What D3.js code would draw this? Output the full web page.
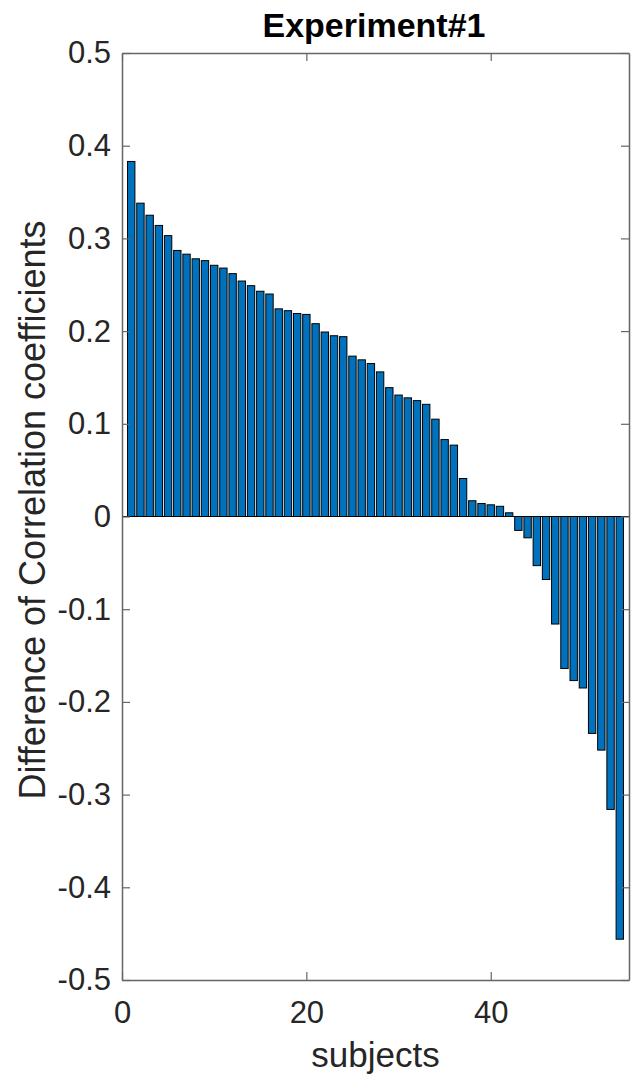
<!DOCTYPE html>
<html>
<head>
<meta charset="utf-8">
<script src="https://cdn.jsdelivr.net/npm/d3@7"></script>
<style>
  body { margin: 0; background: #fff; }
  text { font-family: "Liberation Sans", Arial, sans-serif; fill: #262626; }
</style>
</head>
<body>
<div id="chart"></div>
<script>
////////// data
var subjects = d3.range(1, 55);
var diffValues = [
  0.383, 0.338, 0.325, 0.314, 0.303, 0.287, 0.283, 0.278, 0.276, 0.271,
  0.268, 0.262, 0.254, 0.249, 0.243, 0.240, 0.224, 0.222, 0.219, 0.218,
  0.208, 0.199, 0.195, 0.194, 0.173, 0.169, 0.165, 0.156, 0.139, 0.131,
  0.128, 0.125, 0.121, 0.105, 0.083, 0.077, 0.041, 0.017, 0.014, 0.0126,
  0.011, 0.004, -0.015, -0.023, -0.053, -0.068, -0.116, -0.164, -0.177, -0.185,
  -0.234, -0.252, -0.316, -0.456
];
var xTicks = [0, 20, 40];
var yTicks = [-0.5, -0.4, -0.3, -0.2, -0.1, 0, 0.1, 0.2, 0.3, 0.4, 0.5];
var titleText = "Experiment#1";
var xLabelText = "subjects";
var yLabelText = "Difference of Correlation coefficients";

var W = 631, H = 1083;
// note: "top" is a reserved window property, so use plotTop etc.
var plotLeft = 122, plotRight = 629, plotTop = 53, plotBottom = 980;

var svg = d3.select("#chart").append("svg")
  .attr("width", W)
  .attr("height", H);

var x = d3.scaleLinear().domain([0, 55]).range([plotLeft, plotRight]);
var y = d3.scaleLinear().domain([-0.5, 0.5]).range([plotBottom, plotTop]);
var barW = 0.8;

// bars
svg.selectAll(".bar")
  .data(diffValues)
  .enter().append("rect")
  .attr("class", "bar")
  .attr("x", function(d, i) { return x(subjects[i] - barW / 2); })
  .attr("width", function() { return x(barW) - x(0); })
  .attr("y", function(d) { return y(Math.max(0, d)); })
  .attr("height", function(d) { return Math.abs(y(d) - y(0)); })
  .attr("fill", "#0072BD")
  .attr("stroke", "#000")
  .attr("stroke-width", 1);

// baseline at zero
svg.append("line")
  .attr("x1", plotLeft).attr("x2", plotRight)
  .attr("y1", y(0)).attr("y2", y(0))
  .attr("stroke", "#000").attr("stroke-width", 1);

// axes (ticks inward, box on)
var tickLen = 8;
var axisCol = "#666";
var fmtY = function(d) { return d === 0 ? "0" : d3.format(".1f")(d).replace("\u2212", "-"); };

var gx = svg.append("g")
  .attr("transform", "translate(0," + plotBottom + ")")
  .call(d3.axisBottom(x).tickValues(xTicks).tickSizeInner(-tickLen).tickSizeOuter(0).tickPadding(21));
var gxTop = svg.append("g")
  .attr("transform", "translate(0," + plotTop + ")")
  .call(d3.axisTop(x).tickValues(xTicks).tickSizeInner(-tickLen).tickSizeOuter(0).tickFormat(""));
var gy = svg.append("g")
  .attr("transform", "translate(" + plotLeft + ",0)")
  .call(d3.axisLeft(y).tickValues(yTicks).tickSizeInner(-tickLen).tickSizeOuter(0).tickPadding(11)
    .tickFormat(fmtY));
var gyRight = svg.append("g")
  .attr("transform", "translate(" + plotRight + ",0)")
  .call(d3.axisRight(y).tickValues(yTicks).tickSizeInner(-tickLen).tickSizeOuter(0).tickFormat(""));

[gx, gxTop, gy, gyRight].forEach(function(g) {
  g.selectAll("path.domain").attr("stroke", axisCol).attr("stroke-width", 1.5);
  g.selectAll(".tick line").attr("stroke", axisCol).attr("stroke-width", 1.2);
  g.selectAll(".tick text")
    .style("font-family", "'Liberation Sans', Arial, sans-serif")
    .style("font-size", "31px")
    .attr("fill", "#262626");
});

// title
svg.append("text")
  .attr("x", 374)
  .attr("y", 37)
  .attr("text-anchor", "middle")
  .style("font-size", "34px")
  .style("font-weight", "bold")
  .style("fill", "#000")
  .text(titleText);

// x label
svg.append("text")
  .attr("x", (plotLeft + plotRight) / 2)
  .attr("y", 1067)
  .attr("text-anchor", "middle")
  .style("font-size", "35px")
  .text(xLabelText);

// y label
svg.append("text")
  .attr("transform", "translate(45,510) rotate(-90)")
  .attr("text-anchor", "middle")
  .style("font-size", "36px")
  .text(yLabelText);
</script>
</body>
</html>
